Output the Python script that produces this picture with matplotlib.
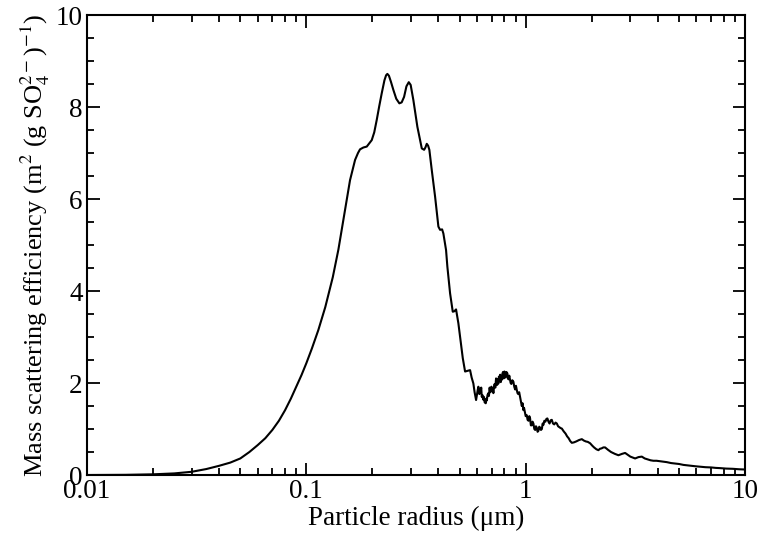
import numpy as np
import matplotlib
matplotlib.use('Agg')
import matplotlib.pyplot as plt
from matplotlib.ticker import MultipleLocator, LogLocator, NullFormatter

plt.rcParams['font.family'] = ['Liberation Serif', 'DejaVu Serif']
plt.rcParams['mathtext.fontset'] = 'stix'

# particle radius (um) and mass scattering efficiency
radius = [0.010, 0.015, 0.020, 0.025, 0.030, 0.035, 0.040, 0.045, 0.050, 0.055,
          0.060, 0.065, 0.070, 0.075, 0.080, 0.085, 0.090, 0.095, 0.100, 0.106,
          0.1134, 0.122, 0.132, 0.140, 0.147, 0.152, 0.1582, 0.1668, 0.1720, 0.1757,
          0.1820, 0.1886, 0.1987, 0.2040, 0.2094, 0.2150, 0.2207, 0.2270, 0.2310, 0.2341,
          0.2380, 0.2430, 0.2494, 0.2570, 0.2655, 0.2720, 0.2790, 0.2860, 0.2931, 0.2990,
          0.3076, 0.3208, 0.3360, 0.3443, 0.3490, 0.3540, 0.3590, 0.3638, 0.3731, 0.3864,
          0.4000, 0.4072, 0.4159, 0.4215, 0.4335, 0.4395, 0.4522, 0.4651, 0.4730, 0.4815,
          0.4933, 0.5167, 0.5293, 0.5578, 0.5670,
          0.5774, 0.5850, 0.5941, 0.6010, 0.6050, 0.6087, 0.6150, 0.6190, 0.6230, 0.6270,
          0.6307, 0.6350, 0.6400, 0.6450, 0.6500, 0.6577, 0.6610, 0.6650, 0.6700, 0.6760,
          0.6800, 0.6850, 0.6890, 0.6934, 0.6980, 0.7030, 0.7080, 0.7124, 0.7170, 0.7220,
          0.7270, 0.7328, 0.7370, 0.7420, 0.7460, 0.7507, 0.7550, 0.7600, 0.7650, 0.7700,
          0.7740, 0.7780, 0.7830, 0.7880, 0.7940, 0.7996, 0.8050, 0.8100, 0.8170, 0.8251,
          0.8300, 0.8350, 0.8420, 0.8489, 0.8540, 0.8600, 0.8690, 0.8787, 0.8870, 0.8950,
          0.9030, 0.9106, 0.9180, 0.9250, 0.9340, 0.9429, 0.9520, 0.9600, 0.9680, 0.9761,
          0.9830, 0.9900, 1.0000, 1.0116, 1.0200, 1.0300, 1.0390, 1.0474, 1.0560, 1.0650,
          1.0750, 1.0843, 1.0950, 1.1050, 1.1140, 1.1236, 1.1330, 1.1430, 1.1530, 1.1634,
          1.1740, 1.1850, 1.1950, 1.2043, 1.2170, 1.2300, 1.2430, 1.2561, 1.2700, 1.2850,
          1.3000, 1.3152, 1.3320, 1.3500, 1.3680, 1.3867, 1.4050, 1.4250, 1.4430, 1.4614,
          1.4900, 1.5200, 1.5450, 1.5700, 1.5950, 1.6230, 1.6600, 1.7000, 1.7500, 1.8030,
          1.8400, 1.8800, 1.9200, 1.9670, 2.0100, 2.0500, 2.1000, 2.1460, 2.1800, 2.2200,
          2.2600, 2.3020, 2.3700, 2.4500, 2.5500, 2.6470, 2.7500, 2.8400, 2.9200, 3.0000,
          3.0800, 3.1540, 3.2700, 3.3840, 3.4900, 3.6000, 3.7100, 3.8220, 3.9500, 4.1000,
          4.2500, 4.3990, 4.6000, 4.8000, 5.0000, 5.2380, 5.4500, 5.7000, 5.9500, 6.2420,
          6.6000, 7.0000, 7.3500, 7.7000, 8.2000, 8.8000, 9.4000, 10.000]
efficiency = [0.0, 0.004, 0.015, 0.035, 0.07, 0.13, 0.20, 0.27, 0.36, 0.50,
              0.65, 0.80, 0.98, 1.18, 1.41, 1.66, 1.92, 2.17, 2.43, 2.75,
              3.15, 3.65, 4.30, 4.90, 5.50, 5.90, 6.41, 6.85, 7.00, 7.08,
              7.12, 7.14, 7.28, 7.45, 7.72, 8.02, 8.30, 8.58, 8.69, 8.72,
              8.68, 8.55, 8.37, 8.18, 8.08, 8.10, 8.22, 8.45, 8.54, 8.48,
              8.15, 7.57, 7.10, 7.07, 7.12, 7.20, 7.16, 7.07, 6.63, 6.05,
              5.40, 5.33, 5.34, 5.25, 4.89, 4.53, 3.95, 3.55, 3.56, 3.60,
              3.30, 2.54, 2.25, 2.28, 2.12,
              1.99, 1.80, 1.63, 1.78, 1.86, 1.92, 1.76, 1.86, 1.80, 1.90,
              1.70, 1.74, 1.64, 1.70, 1.58, 1.56, 1.66, 1.62, 1.74, 1.78,
              1.72, 1.90, 1.80, 1.81, 1.92, 1.84, 1.88, 1.78, 1.92, 1.98,
              1.90, 2.10, 1.98, 1.96, 2.08, 1.99, 2.14, 2.06, 2.18, 2.02,
              2.12, 2.07, 2.20, 2.24, 2.10, 2.25, 2.14, 2.12, 2.24, 2.21,
              2.10, 2.08, 2.16, 2.07, 2.00, 1.98, 2.06, 2.03, 1.92, 1.86,
              1.94, 1.85, 1.78, 1.76, 1.80, 1.70, 1.60, 1.50, 1.56, 1.41,
              1.46, 1.38, 1.28, 1.30, 1.20, 1.18, 1.28, 1.23, 1.08, 1.08,
              1.16, 1.12, 1.00, 0.98, 1.06, 1.03, 0.94, 0.96, 1.05, 1.03,
              0.98, 1.00, 1.12, 1.09, 1.18, 1.16, 1.22, 1.23, 1.16, 1.12,
              1.19, 1.20, 1.12, 1.10, 1.14, 1.12, 1.06, 1.04, 1.02, 1.01,
              0.95, 0.90, 0.84, 0.80, 0.74, 0.70, 0.71, 0.73, 0.76, 0.78,
              0.75, 0.73, 0.72, 0.69, 0.64, 0.60, 0.56, 0.54, 0.57, 0.58,
              0.60, 0.60, 0.55, 0.50, 0.46, 0.43, 0.46, 0.48, 0.44, 0.40,
              0.38, 0.36, 0.39, 0.40, 0.36, 0.34, 0.32, 0.31, 0.31, 0.30,
              0.29, 0.28, 0.26, 0.25, 0.24, 0.22, 0.21, 0.20, 0.19, 0.18,
              0.17, 0.165, 0.155, 0.15, 0.14, 0.135, 0.125, 0.12]

xticks = [0.01, 0.1, 1, 10]
xtick_labels = ['0.01', '0.1', '1', '10']
yticks = [0, 2, 4, 6, 8, 10]

fig = plt.figure(figsize=(7.59, 5.46), dpi=100)
ax = fig.add_axes([0.1146, 0.130, 0.867, 0.8425])

ax.plot(radius, efficiency, color='black', lw=1.5)

ax.set_xscale('log')
ax.set_xlim(0.01, 10)
ax.set_ylim(0, 10)
ax.set_xticks(xticks)
ax.set_xticklabels(xtick_labels)
ax.xaxis.set_minor_locator(LogLocator(base=10, subs=np.arange(2, 10)))
ax.xaxis.set_minor_formatter(NullFormatter())
ax.set_yticks(yticks)
ax.yaxis.set_minor_locator(MultipleLocator(0.5))

ax.tick_params(which='both', direction='in', top=True, right=True,
               width=1.3, labelsize=19.5, colors='black')
ax.tick_params(which='major', length=9, pad=3)
ax.tick_params(which='minor', length=5)
for s in ax.spines.values():
    s.set_linewidth(1.5)

ax.set_xlabel('Particle radius (μm)', fontsize=19.5, labelpad=1)
ax.set_ylabel(r'Mass scattering efficiency (m$^{2}$ (g SO$_4^{2-}$)$^{-1}$)',
              fontsize=19, labelpad=3)

fig.savefig('out.png', dpi=100)
